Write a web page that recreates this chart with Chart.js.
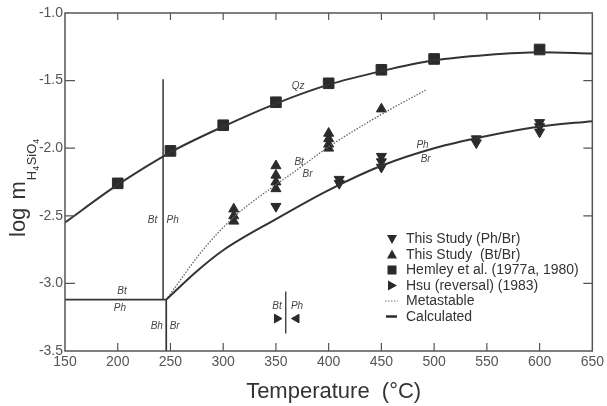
<!DOCTYPE html>
<html lang="en">
<head>
    <meta charset="UTF-8">
    <title>log m H4SiO4 vs Temperature</title>
    <script src="https://cdn.jsdelivr.net/npm/chart.js"></script>
    <style>
        body { margin: 0; background: #fff; }
        #wrap { width: 607px; height: 406px; }
    </style>
</head>
<body>
    <div id="wrap"><canvas id="chart"></canvas></div>
    <script>
        // calculated curves
        const qzT = [150, 200, 250, 300, 350, 400, 450, 500, 550, 600, 650];
        const qzLogM = [-2.55, -2.27, -2.03, -1.84, -1.67, -1.53, -1.43, -1.35, -1.31, -1.29, -1.30];
        const phBrT = [246, 275, 300, 350, 400, 450, 500, 550, 600, 650];
        const phBrLogM = [-3.12, -2.91, -2.755, -2.525, -2.31, -2.13, -2.00, -1.91, -1.84, -1.80];
        const metaT = [246, 280, 310, 350, 370, 400, 450, 492];
        const metaLogM = [-3.12, -2.76, -2.51, -2.27, -2.16, -1.99, -1.75, -1.57];
        // Bt/Ph boundary, Bt-Ph / Bh-Br boundaries
        const btPhT = [243, 243];
        const btPhLogM = [-1.49, -3.12];
        const lowT = [150, 246, 246];
        const lowLogM = [-3.12, -3.12, -3.5];

        // experiments
        const hemleyT = [200, 250, 300, 350, 400, 450, 500, 600];
        const hemleyLogM = [-2.26, -2.02, -1.83, -1.66, -1.52, -1.42, -1.34, -1.27];
        const phStudyT = [350, 410, 410, 450, 450, 450, 540, 540, 600, 600, 600];
        const phStudyLogM = [-2.43, -2.23, -2.26, -2.06, -2.10, -2.14, -1.93, -1.96, -1.81, -1.84, -1.88];
        const btStudyT = [310, 310, 310, 350, 350, 350, 350, 400, 400, 400, 400, 450];
        const btStudyLogM = [-2.45, -2.50, -2.54, -2.13, -2.20, -2.25, -2.30, -1.89, -1.93, -1.97, -2.00, -1.71];
        const hsuT = [359.3, 359.3];
        const hsuLogM = [-3.06, -3.37];
        const hsuRightT = [351];
        const hsuLeftT = [369.5];
        const hsuArrowLogM = [-3.26];

        const xTicks = [200, 250, 300, 350, 400, 450, 500, 550, 600];
        const yTicks = [-1.5, -2.0, -2.5, -3.0];

        const legendLabels = ['This Study (Ph/Br)', 'This Study  (Bt/Br)', 'Hemley et al. (1977a, 1980)',
            'Hsu (reversal) (1983)', 'Metastable', 'Calculated'];
        const legendMarks = ['down', 'up', 'rect', 'right', 'dots', 'line'];

        const fieldLabels = [
            { t: 'Qz', x: 371, y: -1.54 },
            { t: 'Bt', x: 372, y: -2.10 },
            { t: 'Br', x: 380, y: -2.19 },
            { t: 'Ph', x: 489, y: -1.98 },
            { t: 'Br', x: 492, y: -2.08 },
            { t: 'Bt', x: 233, y: -2.53 },
            { t: 'Ph', x: 252, y: -2.53 },
            { t: 'Bt', x: 204, y: -3.06 },
            { t: 'Ph', x: 202, y: -3.18 },
            { t: 'Bh', x: 237, y: -3.32 },
            { t: 'Br', x: 254, y: -3.32 },
            { t: 'Bt', x: 351, y: -3.17 },
            { t: 'Ph', x: 370, y: -3.17 }
        ];

        const ink = '#333';
        const pts = (xs, ys) => xs.map((x, i) => ({ x: x, y: ys.length === 1 ? ys[0] : ys[i] }));

        function lineSet(xs, ys, extra) {
            return Object.assign({
                data: pts(xs, ys), showLine: true, pointRadius: 0,
                borderColor: ink, borderWidth: 2, fill: false
            }, extra || {});
        }
        function markSet(xs, ys, style, rot, r) {
            return {
                data: pts(xs, ys), showLine: false, pointStyle: style, rotation: rot,
                pointRadius: r, pointBackgroundColor: '#2b2b2b', pointBorderColor: '#2b2b2b',
                pointBorderWidth: 1, pointHoverRadius: r
            };
        }

        const frame = {
            id: 'frame',
            afterDatasetsDraw(chart) {
                const { ctx, chartArea: a, scales } = chart;
                const xs = scales.x, ys = scales.y;
                ctx.save();
                ctx.strokeStyle = '#555';
                ctx.lineWidth = 1.5;
                ctx.strokeRect(a.left, a.top, a.right - a.left, a.bottom - a.top);
                ctx.lineWidth = 1.2;
                ctx.beginPath();
                xTicks.forEach(v => {
                    const p = xs.getPixelForValue(v);
                    ctx.moveTo(p, a.bottom); ctx.lineTo(p, a.bottom - 8);
                    ctx.moveTo(p, a.top); ctx.lineTo(p, a.top + 7);
                });
                yTicks.forEach(v => {
                    const p = ys.getPixelForValue(v);
                    ctx.moveTo(a.left, p); ctx.lineTo(a.left + 10, p);
                    ctx.moveTo(a.right, p); ctx.lineTo(a.right - 9, p);
                });
                ctx.stroke();

                // field labels
                ctx.fillStyle = '#444';
                ctx.font = 'italic 10px "Liberation Sans", Arial, sans-serif';
                ctx.textAlign = 'center';
                ctx.textBaseline = 'middle';
                fieldLabels.forEach(l => {
                    ctx.fillText(l.t, xs.getPixelForValue(l.x), ys.getPixelForValue(l.y));
                });

                // axis titles
                ctx.fillStyle = ink;
                ctx.textBaseline = 'alphabetic';
                ctx.font = '22px "Liberation Sans", Arial, sans-serif';
                ctx.fillText('Temperature  (\u00B0C)', (a.left + a.right) / 2 + 5, 398);

                ctx.save();
                ctx.translate(25, 237);
                ctx.rotate(-Math.PI / 2);
                ctx.textAlign = 'left';
                ctx.font = '22px "Liberation Sans", Arial, sans-serif';
                ctx.fillText('log', 0, 0);
                let cx = ctx.measureText('log ').width + 2;
                ctx.fillText('m', cx, 0);
                cx += ctx.measureText('m').width + 1;
                const parts = [['H', 0], ['4', 1], ['SiO', 0], ['4', 1]];
                parts.forEach(p => {
                    ctx.font = (p[1] ? '9px' : '13px') + ' "Liberation Sans", Arial, sans-serif';
                    ctx.fillText(p[0], cx, p[1] ? 14 : 11);
                    cx += ctx.measureText(p[0]).width + (p[1] ? 0.5 : 0);
                });
                ctx.restore();

                // legend
                const lx = a.left + 327, ly = 239, step = 15.5;
                ctx.font = '14px "Liberation Sans", Arial, sans-serif';
                ctx.textAlign = 'left';
                ctx.textBaseline = 'middle';
                legendLabels.forEach((label, i) => {
                    const y = ly + i * step;
                    const m = legendMarks[i];
                    ctx.fillStyle = '#2b2b2b';
                    ctx.strokeStyle = '#2b2b2b';
                    ctx.beginPath();
                    if (m === 'down') {
                        ctx.moveTo(lx - 5, y - 4); ctx.lineTo(lx + 5, y - 4); ctx.lineTo(lx, y + 5); ctx.fill();
                    } else if (m === 'up') {
                        ctx.moveTo(lx - 5, y + 4); ctx.lineTo(lx + 5, y + 4); ctx.lineTo(lx, y - 5); ctx.fill();
                    } else if (m === 'rect') {
                        ctx.fillRect(lx - 4.5, y - 4.5, 9, 9);
                    } else if (m === 'right') {
                        ctx.moveTo(lx - 4, y - 5); ctx.lineTo(lx - 4, y + 5); ctx.lineTo(lx + 5, y); ctx.fill();
                    } else if (m === 'dots') {
                        ctx.lineWidth = 1.2;
                        ctx.setLineDash([1.5, 1.5]);
                        ctx.strokeStyle = '#777';
                        ctx.moveTo(lx - 7, y); ctx.lineTo(lx + 6, y); ctx.stroke();
                        ctx.setLineDash([]);
                    } else {
                        ctx.lineWidth = 2.5;
                        ctx.moveTo(lx - 6, y); ctx.lineTo(lx + 5, y); ctx.stroke();
                    }
                    ctx.fillStyle = ink;
                    ctx.fillText(label, lx + 14, y + 0.5);
                });
                ctx.restore();
            }
        };

        new Chart(document.getElementById('chart'), {
            type: 'scatter',
            data: {
                datasets: [
                    lineSet(qzT, qzLogM, { cubicInterpolationMode: 'monotone' }),
                    lineSet(phBrT, phBrLogM, { cubicInterpolationMode: 'monotone' }),
                    lineSet(metaT, metaLogM, { cubicInterpolationMode: 'monotone', borderDash: [1.5, 1.5], borderWidth: 1.3, borderColor: '#666' }),
                    lineSet(btPhT, btPhLogM, { borderWidth: 1.5 }),
                    lineSet(lowT, lowLogM, { borderWidth: 1.7 }),
                    lineSet(hsuT, hsuLogM, { borderWidth: 1.3 }),
                    markSet(hemleyT, hemleyLogM, 'rect', 0, 7.5),
                    markSet(phStudyT, phStudyLogM, 'triangle', 180, 5.8),
                    markSet(btStudyT, btStudyLogM, 'triangle', 0, 5.8),
                    markSet(hsuRightT, hsuArrowLogM, 'triangle', 90, 5),
                    markSet(hsuLeftT, hsuArrowLogM, 'triangle', 270, 5)
                ]
            },
            options: {
                responsive: true,
                maintainAspectRatio: false,
                animation: false,
                layout: { padding: { top: 13, right: 14, left: 0, bottom: 0 } },
                plugins: { legend: { display: false }, tooltip: { enabled: false } },
                scales: {
                    x: {
                        type: 'linear', min: 150, max: 650,
                        ticks: { stepSize: 50, color: '#555', padding: 3, maxRotation: 0, autoSkip: false,
                            font: { family: '"Liberation Sans", Arial, sans-serif', size: 14 } },
                        grid: { display: false, drawTicks: false },
                        border: { display: false },
                        afterFit(s) { s.height = 55; }
                    },
                    y: {
                        min: -3.5, max: -1.0,
                        ticks: { stepSize: 0.5, color: '#555', padding: 2,
                            callback: v => v.toFixed(1),
                            font: { family: '"Liberation Sans", Arial, sans-serif', size: 14 } },
                        grid: { display: false, drawTicks: false },
                        border: { display: false },
                        afterFit(s) { s.width = 65; }
                    }
                }
            },
            plugins: [frame]
        });
    </script>
</body>
</html>
